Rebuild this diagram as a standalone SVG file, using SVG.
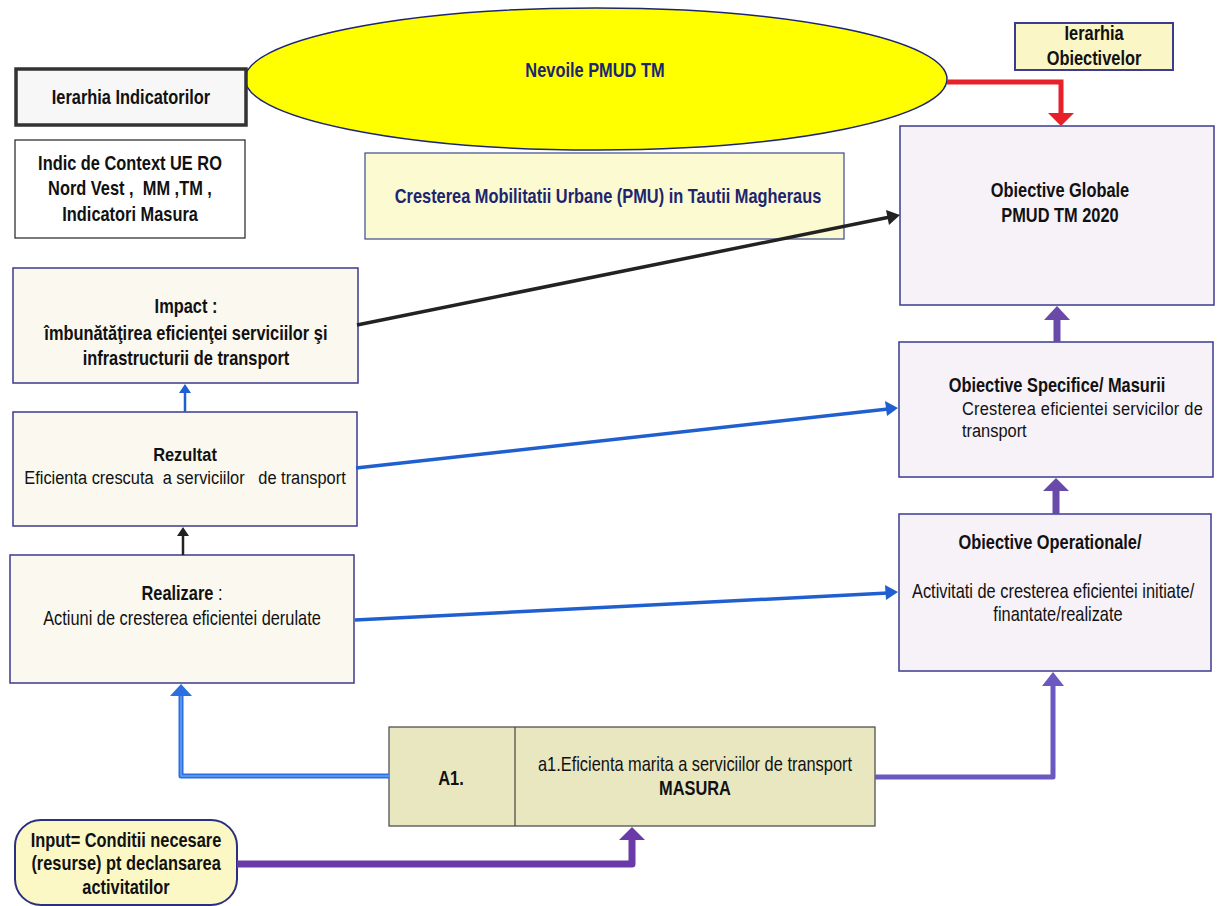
<svg xmlns="http://www.w3.org/2000/svg" width="1219" height="906" viewBox="0 0 1219 906">
<defs>
<style>
text{font-family:"Liberation Sans",Arial,sans-serif;font-size:20px;fill:#111;transform-box:fill-box;transform-origin:center;transform:scaleX(0.82);}
.s19{font-size:19px;transform:scaleX(0.863);}
.l{transform-origin:left center;}
.b{font-weight:bold;}
.c{text-anchor:middle;}
.navy{fill:#1c2570;}
.pre{white-space:pre;}
.lbox{fill:#faf8ef;stroke:#3b3b8f;stroke-width:1.5;}
.rbox{fill:#f7f1f8;stroke:#3b3b8f;stroke-width:1.5;}
</style>
</defs>
<rect width="1219" height="906" fill="#ffffff"/>

<g id="ellipse-nevoi">
<ellipse cx="596" cy="79" rx="351" ry="71" fill="#ffff00" stroke="#1c2570" stroke-width="1.5"/>
<text x="595" y="77" class="b c navy" font-size="21">Nevoile PMUD TM</text>
</g>

<g id="ierarhia-indicatorilor">
<rect x="16" y="69" width="230" height="56" fill="#f7f7f7" stroke="#333" stroke-width="3.5"/>
<text x="131" y="104" class="b c">Ierarhia Indicatorilor</text>
</g>

<g id="indic-context">
<rect x="15" y="140" width="230" height="98" fill="#ffffff" stroke="#222" stroke-width="1.2"/>
<text x="130" y="170" class="b c" font-size="21">Indic de Context UE RO</text>
<text x="130" y="195" class="b c pre" font-size="21">Nord Vest ,  MM ,TM ,</text>
<text x="130" y="221" class="b c" font-size="21">Indicatori Masura</text>
</g>

<g id="crestere-pmu">
<rect x="365" y="153" width="479" height="86" fill="#fcfad0" stroke="#3b4a8f" stroke-width="1.2"/>
<text x="608" y="203" class="b c navy">Cresterea Mobilitatii Urbane (PMU) in Tautii Magheraus</text>
</g>

<g id="ierarhia-obiectivelor">
<rect x="1015" y="23" width="158" height="47" fill="#fbf6c6" stroke="#3b3b8f" stroke-width="2"/>
<text x="1094" y="40" class="b c">Ierarhia</text>
<text x="1094" y="65" class="b c">Obiectivelor</text>
</g>

<g id="obiective-globale">
<rect x="900" y="126" width="314" height="179" class="rbox"/>
<text x="1060" y="197" class="b c" font-size="21">Obiective Globale</text>
<text x="1060" y="222" class="b c" font-size="21">PMUD TM 2020</text>
</g>

<g id="obiective-specifice">
<rect x="899" y="342" width="314" height="135" class="rbox"/>
<text x="1057" y="392" class="b c">Obiective Specifice/ Masurii</text>
<text x="962" y="415" class="l s19" textLength="279" lengthAdjust="spacing">Cresterea eficientei servicilor de</text>
<text x="962" y="437" class="l s19">transport</text>
</g>

<g id="obiective-operationale">
<rect x="899" y="514" width="312" height="157" class="rbox"/>
<text x="1050" y="549" class="b c" font-size="21">Obiective Operationale/</text>
<text x="1053" y="598" class="c">Activitati de cresterea eficientei initiate/</text>
<text x="1058" y="621" class="c">finantate/realizate</text>
</g>

<g id="impact">
<rect x="13" y="268" width="345" height="115" class="lbox"/>
<text x="186" y="313" class="b c">Impact :</text>
<text x="186" y="340" class="b c">îmbunătăţirea eficienţei serviciilor şi</text>
<text x="186" y="365" class="b c">infrastructurii de transport</text>
</g>

<g id="rezultat">
<rect x="13" y="412" width="344" height="114" class="lbox"/>
<text x="185" y="461" class="b c s19">Rezultat</text>
<text x="185" y="484" class="c pre s19">Eficienta crescuta  a serviciilor   de transport</text>
</g>

<g id="realizare">
<rect x="10" y="555" width="344" height="128" class="lbox"/>
<text x="182" y="600" class="c"><tspan class="b">Realizare</tspan> :</text>
<text x="182" y="625" class="c">Actiuni de cresterea eficientei derulate</text>
</g>

<g id="a1-masura">
<rect x="389" y="727" width="486" height="99" fill="#e9e7c0" stroke="#444" stroke-width="1.2"/>
<line x1="515" y1="727" x2="515" y2="826" stroke="#444" stroke-width="1.2"/>
<text x="451" y="785" class="b c">A1.</text>
<text x="695" y="771" class="c">a1.Eficienta marita a serviciilor de transport</text>
<text x="695" y="795" class="b c">MASURA</text>
</g>

<g id="input">
<rect x="15" y="820" width="222" height="85" rx="26" ry="26" fill="#fcf8c6" stroke="#2a2f80" stroke-width="2"/>
<text x="126" y="847" class="b c" font-size="21">Input= Conditii necesare</text>
<text x="126" y="870" class="b c" font-size="21">(resurse) pt declansarea</text>
<text x="126" y="894" class="b c" font-size="21">activitatilor</text>
</g>

<g id="connectors">
<polyline points="947,82 1061,82 1061,114" fill="none" stroke="#e8202a" stroke-width="5"/>
<polygon points="1048,113 1074,113 1061,126" fill="#e8202a"/>

<line x1="357" y1="325" x2="890" y2="217" stroke="#222" stroke-width="3.5"/>
<polygon points="900,215 886,210 889,225" fill="#222"/>

<line x1="356" y1="468" x2="888" y2="409" stroke="#1f5fcf" stroke-width="3.5"/>
<polygon points="898,408 885,401 887,416" fill="#1f5fcf"/>

<line x1="355" y1="620" x2="888" y2="593" stroke="#1f5fcf" stroke-width="3.5"/>
<polygon points="898,592 885,585 886,600" fill="#1f5fcf"/>

<line x1="185" y1="412" x2="185" y2="392" stroke="#1f5fcf" stroke-width="2.5"/>
<polygon points="179,393 191,393 185,384" fill="#1f5fcf"/>

<line x1="183" y1="555" x2="183" y2="535" stroke="#222" stroke-width="2.5"/>
<polygon points="177,536 189,536 183,527" fill="#222"/>

<polyline points="389,776 181,776 181,694" fill="none" stroke="#2b6fe0" stroke-width="5" stroke-linejoin="round"/>
<polyline points="389,776 181,776 181,694" fill="none" stroke="#6aa2f2" stroke-width="1.5" stroke-linejoin="round"/>
<polygon points="170,696 192,696 181,684" fill="#2b6fe0"/>

<polyline points="237,864 632,864 632,838" fill="none" stroke="#6a3aa8" stroke-width="7" stroke-linejoin="round"/>
<polygon points="619,840 645,840 632,827" fill="#6a3aa8"/>

<polyline points="875,777 1053,777 1053,684" fill="none" stroke="#6b58c0" stroke-width="5" stroke-linejoin="round"/>
<polygon points="1042,686 1064,686 1053,672" fill="#6b58c0"/>

<line x1="1056" y1="514" x2="1056" y2="489" stroke="#6a4aa8" stroke-width="7"/>
<polygon points="1043,491 1069,491 1056,478" fill="#6a4aa8"/>

<line x1="1057" y1="342" x2="1057" y2="318" stroke="#6a4aa8" stroke-width="7"/>
<polygon points="1044,320 1070,320 1057,306" fill="#6a4aa8"/>
</g>
</svg>
